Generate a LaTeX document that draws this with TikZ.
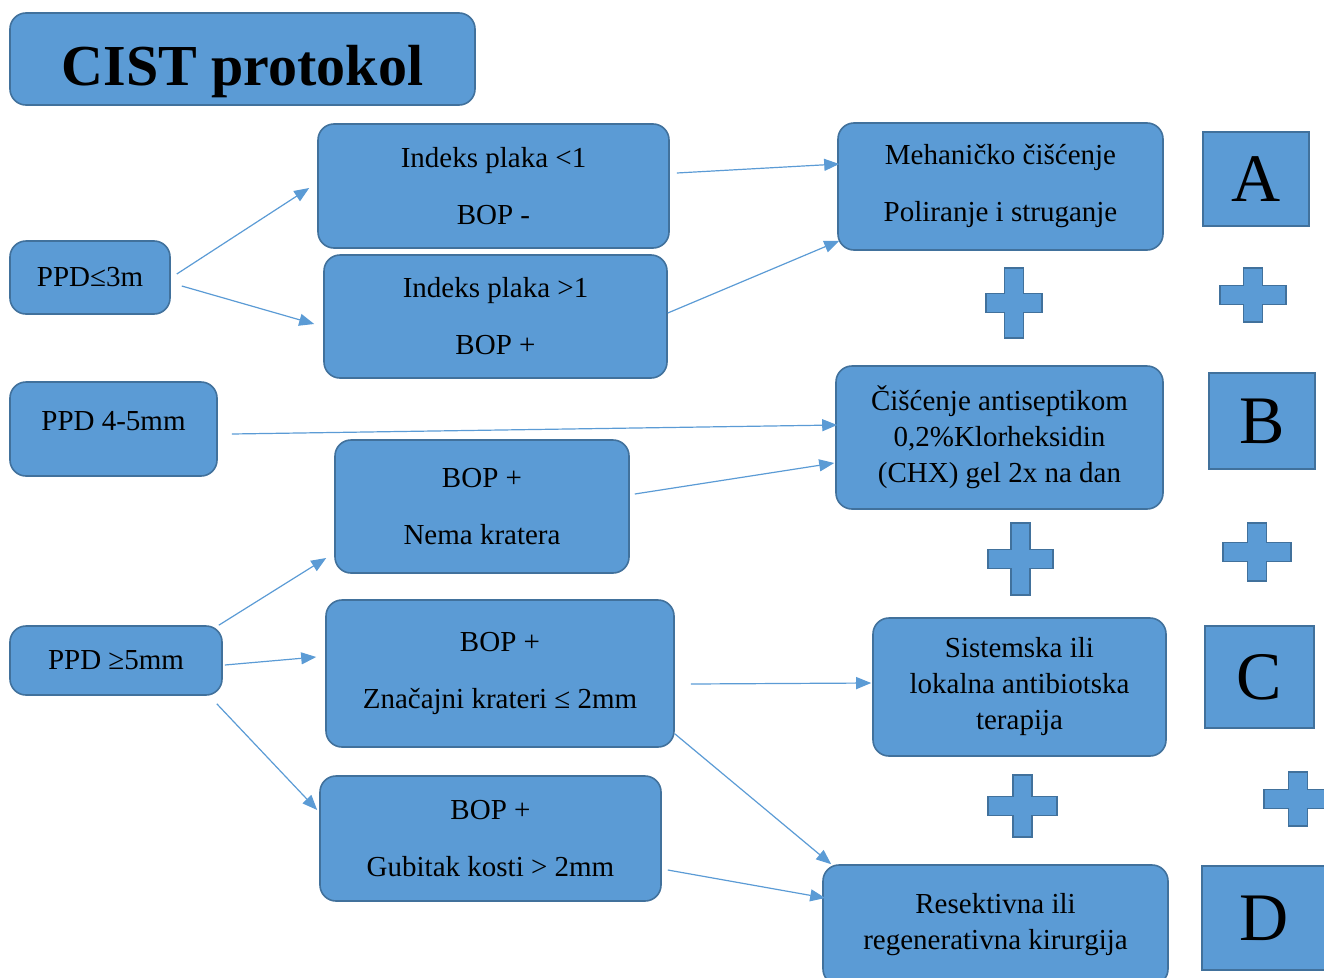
\documentclass[tikz,border=0pt]{standalone}
\usepackage{fontspec}
\setmainfont{Liberation Serif}
\usepackage{tikz}
\usetikzlibrary{arrows.meta}
\definecolor{boxblue}{HTML}{5B9BD5}
\definecolor{boxedge}{HTML}{41719C}
\tikzset{
  box/.style={draw=boxedge, fill=boxblue, line width=1.6pt, rounded corners=16pt,
    align=center, inner sep=0pt, font=\fontsize{29}{36}\selectfont},
  letterbox/.style={draw=boxedge, fill=boxblue, line width=1.6pt, inner sep=0pt,
    font=\fontsize{68}{68}\selectfont},
  crossline/.style={draw=boxedge, fill=boxblue, line width=1.6pt},
  arr/.style={boxblue, line width=1.2pt, -{Triangle[length=15pt,width=12pt]}},
}
% plus sign: centre x, centre y, half width, half height
\newcommand{\crossat}[4]{%
  \draw[crossline, shift={(#1,#2)}] (-9.5,-#4) -- (9.5,-#4) -- (9.5,-9.5) -- (#3,-9.5)
    -- (#3,9.5) -- (9.5,9.5) -- (9.5,#4) -- (-9.5,#4) -- (-9.5,9.5) -- (-#3,9.5)
    -- (-#3,-9.5) -- (-9.5,-9.5) -- cycle;}

\begin{document}
\begin{tikzpicture}[x=1pt,y=-1pt]
    \useasboundingbox (0,0) rectangle (1324,977);

    \node[box, minimum width=465, minimum height=92, text height=52pt, text depth=0pt,
      font=\fontsize{58}{60}\selectfont\bfseries] (title) at (242.5,59) {CIST protokol};

    % left column
    \node[box, minimum width=160, minimum height=73] (ppd3) at (90,277.5) {PPD≤3m};
    \node[box, minimum width=207, minimum height=94, text depth=16pt] (ppd45) at (113.5,429) {PPD 4-5mm};
    \node[box, minimum width=212, minimum height=69] (ppd5) at (116,660.5) {PPD ≥5mm};

    % middle column
    \node[box, minimum width=351, minimum height=124] (ind1) at (493.5,186) {Indeks plaka <1\\[21pt]BOP -};
    \node[box, minimum width=343, minimum height=123] (ind2) at (495.5,316.5) {Indeks plaka >1\\[21pt]BOP +};
    \node[box, minimum width=294, minimum height=133] (nema) at (482,506.5) {BOP +\\[21pt]Nema kratera};
    \node[box, minimum width=348, minimum height=147] (zna) at (500,673.5) {BOP +\\[21pt]Značajni krateri ≤ 2mm};
    \node[box, minimum width=341, minimum height=125] (gub) at (490.5,838.5) {BOP +\\[21pt]Gubitak kosti > 2mm};

    % right column
    \node[box, minimum width=325, minimum height=127] (meh) at (1000.5,186.5) {Mehaničko čišćenje\\[21pt]Poliranje i struganje};
    \node[box, minimum width=327, minimum height=143] (chx) at (999.5,437.5) {Čišćenje antiseptikom\\0,2\%Klorheksidin\\(CHX) gel 2x na dan};
    \node[box, minimum width=293, minimum height=138] (sis) at (1019.5,687) {Sistemska ili\\lokalna antibiotska\\terapija};
    \node[box, minimum width=345, minimum height=120] (res) at (995.5,925) {Resektivna ili\\regenerativna kirurgija};

    % letters
    \node[letterbox, minimum width=106, minimum height=94] (la) at (1256,179) {A};
    \node[letterbox, minimum width=106, minimum height=96] (lb) at (1262,421) {B};
    \node[letterbox, minimum width=109, minimum height=102] (lc) at (1259.5,677) {C};
    \node[letterbox, minimum width=124, minimum height=104] (ld) at (1264,918) {D};

    % plus signs
    \crossat{1014}{303}{28}{35}
    \crossat{1253}{295}{33}{27}
    \crossat{1020.5}{559}{32.5}{36}
    \crossat{1257}{552}{34}{29}
    \crossat{1022.5}{806}{34.5}{31}
    \crossat{1298}{799}{34}{27}

    % arrows
    \draw[arr] ([shift={(6,-3.5)}]ppd3.east) -- ([shift={(-8,2)}]ind1.west);
    \draw[arr] ([shift={(11,8.5)}]ppd3.east) -- ([shift={(-9,7.5)}]ind2.west);
    \draw[arr] ([shift={(7,-13)}]ind1.east) -- ([shift={(2,-22.5)}]meh.west);
    \draw[arr] ([shift={(0,-3.5)}]ind2.east) -- ([shift={(2,-10)}]meh.south west);
    \draw[arr] ([shift={(14,5)}]ppd45.east) -- ([shift={(2,-12.5)}]chx.west);
    \draw[arr] ([shift={(5,-12.5)}]nema.east) -- ([shift={(-1,25.5)}]chx.west);
    \draw[arr] ([shift={(-4,0)}]ppd5.north east) -- ([shift={(-8,51.5)}]nema.west);
    \draw[arr] ([shift={(2,4.5)}]ppd5.east) -- ([shift={(-9,-16.5)}]zna.west);
    \draw[arr] ([shift={(-6,8)}]ppd5.south east) -- ([shift={(-2,-28.5)}]gub.west);
    \draw[arr] ([shift={(16,10.5)}]zna.east) -- ([shift={(-1,-4)}]sis.west);
    \draw[arr] ([shift={(0,-14)}]zna.south east) -- ([shift={(9,0)}]res.north west);
    \draw[arr] ([shift={(6,31.5)}]gub.east) -- ([shift={(3,-27)}]res.west);
\end{tikzpicture}
\end{document}
